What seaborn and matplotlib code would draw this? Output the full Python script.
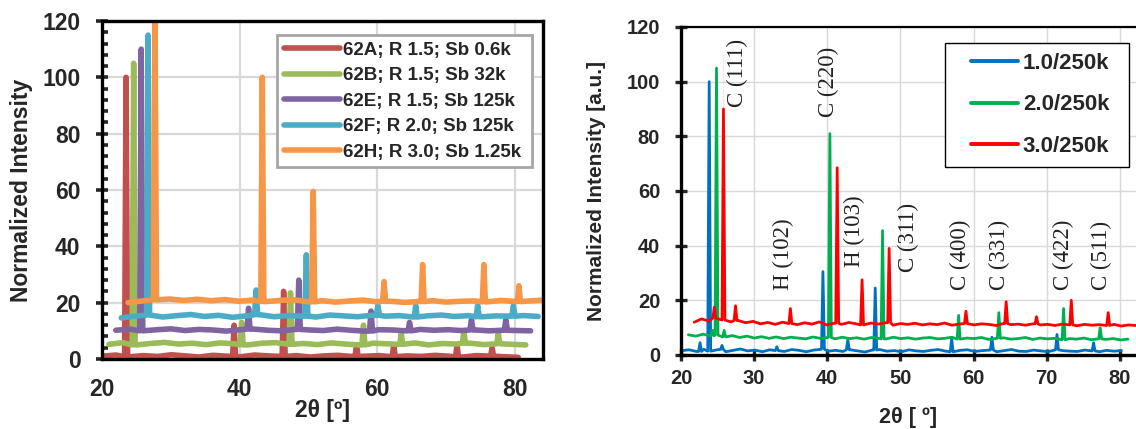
import numpy as np
import pandas as pd
import matplotlib
matplotlib.use("Agg")
import matplotlib.pyplot as plt
import seaborn as sns
from matplotlib.ticker import MultipleLocator
from matplotlib.legend_handler import HandlerLine2D
from matplotlib.lines import Line2D

# ---------------- Left panel data ----------------
left_labels = ["62A; R 1.5; Sb 0.6k", "62B; R 1.5; Sb 32k", "62E; R 1.5; Sb 125k",
               "62F; R 2.0; Sb 125k", "62H; R 3.0; Sb 1.25k"]
left_colors = ["#C0504D", "#9BBB59", "#8064A2", "#4BACC6", "#F79646"]
left_start = [20.0, 21.0, 22.0, 22.8, 23.8]
left_end = [80.5, 81.6, 82.3, 83.4, 84.1]
left_base_A = [1.0, 1.4, 0.8, 1.2, 0.9, 1.5, 1.1, 0.7, 1.3, 1.0, 0.8, 1.4, 1.1, 0.9, 1.2, 0.7,
               1.1, 1.3, 0.9, 1.0, 1.2, 0.8, 1.1, 0.9, 1.3, 1.0, 0.7, 1.2, 1.0, 0.8, 0.6]
left_base_B = [5.2, 5.8, 5.0, 5.5, 5.9, 5.3, 5.6, 5.1, 5.7, 5.4, 5.0, 5.6, 5.8, 5.2, 5.5, 5.1,
               5.7, 5.3, 5.0, 5.6, 5.4, 5.2, 5.7, 5.0, 5.5, 5.3, 5.6, 5.1, 5.4, 5.2, 5.0]
left_base_E = [10.2, 10.6, 10.0, 10.4, 10.7, 10.1, 10.5, 10.3, 9.9, 10.4, 10.6, 10.2, 10.0, 10.5,
               10.3, 10.1, 10.6, 10.2, 9.9, 10.4, 10.3, 10.0, 10.5, 10.2, 10.4, 10.1, 10.3, 10.0,
               10.2, 10.1, 10.0]
left_base_F = [14.6, 15.2, 15.6, 14.9, 15.4, 15.8, 15.1, 15.5, 14.8, 15.3, 15.7, 15.0, 15.4, 15.2,
               14.9, 15.6, 15.3, 15.0, 15.5, 15.2, 15.4, 14.9, 15.3, 15.6, 15.1, 15.4, 15.0, 15.3,
               15.2, 15.4, 15.1]
left_base_H = [20.0, 20.6, 21.0, 21.3, 20.8, 21.2, 20.7, 21.1, 20.5, 20.9, 20.4, 20.8, 21.0, 20.3,
               20.7, 20.2, 20.6, 20.9, 20.3, 20.5, 20.1, 20.4, 20.7, 20.2, 20.5, 20.6, 20.3, 20.8,
               20.4, 20.6, 20.9]
left_peak_x = [[23.5, 39.2, 46.4, 57.0, 62.4, 71.6, 76.7],
               [24.6, 40.3, 47.4, 58.0, 63.5, 72.6, 77.6],
               [25.7, 41.3, 48.6, 59.1, 64.7, 73.7, 78.7],
               [26.7, 42.4, 49.7, 60.1, 65.6, 74.6, 79.8],
               [27.7, 43.3, 50.7, 61.0, 66.6, 75.5, 80.6]]
left_peak_y = [[100, 12, 24, 5, 5, 5, 4],
               [105, 13, 23.5, 12, 9, 10, 9],
               [110, 18, 28, 17, 13, 14, 14],
               [115, 24.5, 37, 19, 19, 19, 19],
               [125, 100, 59.5, 27.5, 33.5, 33.5, 26]]
left_bases = [left_base_A, left_base_B, left_base_E, left_base_F, left_base_H]
left_yticks = [0, 20, 40, 60, 80, 100, 120]
left_xticks = [20, 40, 60, 80]

# ---------------- Right panel data ----------------
right_labels = ["1.0/250k", "2.0/250k", "3.0/250k"]
right_colors = ["#0070C0", "#00B050", "#FF0000"]
right_start = [20.1, 21.0, 21.8]
right_end = [80.2, 81.1, 82.2]
right_base_1 = [1.6, 1.9, 1.3, 2.1, 1.4, 2.0, 1.2, 1.7, 2.2, 1.5,
                1.8, 1.2, 1.9, 1.6, 1.3, 2.0, 1.7, 1.2, 1.8, 2.1,
                1.4, 1.7, 1.3, 1.9, 1.5, 1.1, 1.8, 2.0, 1.4, 1.6,
                1.2, 1.9, 1.5, 1.3, 1.7, 2.0, 1.4, 1.2, 1.7, 1.9,
                1.3, 1.6, 1.8, 1.2, 1.6, 2.0, 1.4, 1.3, 1.8, 1.5,
                1.2, 1.9, 1.6, 1.4, 1.3, 1.8, 1.5, 1.2, 1.7, 1.4, 1.6]
right_base_2 = [7.4, 6.9, 7.6, 7.0, 7.3, 6.6, 7.1, 6.4, 6.9, 6.2,
                6.7, 6.1, 6.6, 6.0, 6.5, 6.2, 5.9, 6.6, 6.1, 6.4,
                5.9, 6.5, 6.0, 6.3, 5.8, 6.4, 6.1, 5.9, 6.5, 6.0,
                6.3, 5.8, 6.2, 6.4, 5.9, 6.1, 6.5, 5.8, 6.2, 6.0,
                6.4, 5.7, 6.1, 6.3, 5.8, 6.0, 6.4, 5.7, 6.2, 5.9,
                6.1, 5.6, 6.0, 5.8, 6.2, 5.6, 5.9, 5.7, 6.0, 5.5, 5.8]
right_base_3 = [12.0, 13.2, 12.4, 13.5, 12.8, 12.1, 12.6, 11.8, 12.3, 11.4,
                11.9, 11.2, 12.0, 11.5, 11.1, 11.8, 11.3, 12.1, 11.0, 11.6,
                11.2, 11.9, 11.4, 11.0, 11.7, 11.3, 11.8, 10.9, 11.5, 11.2,
                11.6, 11.0, 11.4, 11.1, 11.7, 10.9, 11.3, 11.5, 11.0, 11.4,
                11.2, 10.8, 11.5, 11.1, 11.3, 10.9, 11.4, 11.0, 11.2, 10.8,
                11.3, 11.0, 10.7, 11.2, 10.9, 11.1, 10.8, 11.2, 10.6, 11.0, 10.8]
right_peak_x = [[22.6, 23.85, 25.6, 33.1, 39.4, 42.8, 46.55, 57.0, 62.5, 71.4, 76.4],
                [24.3, 24.85, 25.9, 40.35, 47.55, 57.95, 63.45, 72.3, 77.3],
                [24.55, 25.8, 27.45, 34.95, 41.35, 44.75, 48.45, 58.95, 64.45, 68.6, 73.35, 78.4]]
right_peak_y = [[4.5, 100, 3.5, 3, 30.5, 5.5, 24.5, 6, 6.5, 7.5, 4.5],
                [9, 105, 9, 81, 45.5, 14.5, 15.5, 17, 10],
                [17.5, 90, 18, 17, 68.5, 27.5, 39, 16, 19.5, 14, 20, 15.5]]
right_bases = [right_base_1, right_base_2, right_base_3]
faint_x = [25.75, 25.75]
faint_y = [90, 110]
annot_labels = ["C (111)", "C (220)", "H (102)", "H (103)", "C (311)",
                "C (400)", "C (331)", "C (422)", "C (511)"]
annot_x = [27.65, 40.1, 34.05, 43.7, 51.1, 58.2, 63.6, 72.3, 77.5]
annot_y = [90.7, 87, 23.8, 32.3, 30.5, 23.8, 23.8, 23.8, 23.8]
right_yticks = [0, 20, 40, 60, 80, 100, 120]
right_xticks = [20, 30, 40, 50, 60, 70, 80]


def build(label, start, end, base, px, py, hw):
    bx = np.linspace(start, end, len(base))
    pts = [(x, y) for x, y in zip(bx, base) if all(abs(x - p) > hw * 1.5 for p in px)]
    for p, h in zip(px, py):
        b = base[int(np.argmin(np.abs(bx - p)))]
        pts += [(p - hw, b), (p, h), (p + hw, b)]
    pts.sort(key=lambda t: t[0])
    return pd.DataFrame({"x": [t[0] for t in pts], "y": [t[1] for t in pts], "series": label})


df_left = pd.concat([build(l, s, e, b, px, py, 0.22) for l, s, e, b, px, py in
                     zip(left_labels, left_start, left_end, left_bases, left_peak_x, left_peak_y)],
                    ignore_index=True)
df_right = pd.concat([build(l, s, e, b, px, py, 0.2) for l, s, e, b, px, py in
                      zip(right_labels, right_start, right_end, right_bases, right_peak_x, right_peak_y)],
                     ignore_index=True)

sns.set_style("white")
plt.rcParams["font.family"] = ["Liberation Sans", "DejaVu Sans"]
plt.rcParams["font.weight"] = "bold"
plt.rcParams["axes.labelweight"] = "bold"

fig = plt.figure(figsize=(11.36, 4.29), dpi=100)
axL = fig.add_axes([0.0898, 0.1632, 0.3882, 0.7879])
axR = fig.add_axes([0.5995, 0.1725, 0.4005, 0.7646])

# ---------------- Left panel ----------------
sns.lineplot(data=df_left, x="x", y="y", hue="series", hue_order=left_labels,
             palette=dict(zip(left_labels, left_colors)), estimator=None, sort=False,
             linewidth=4.0, solid_capstyle="round", solid_joinstyle="round", ax=axL)
axL.set_xlim(20, 84.1)
axL.set_ylim(0, 120)
axL.set_xticks(left_xticks)
axL.set_yticks(left_yticks)
axL.yaxis.set_minor_locator(MultipleLocator(4))
axL.set_axisbelow(True)
axL.grid(True, which="major", color="#D9D9D9", linewidth=1.6)
for sp in axL.spines.values():
    sp.set_visible(True)
    sp.set_color("black")
    sp.set_linewidth(2.4)
axL.tick_params(axis="y", which="major", direction="inout", length=9, width=2.6,
                pad=11, labelsize=16.5, left=True)
axL.tick_params(axis="y", which="minor", direction="in", length=4.5, width=2.6, left=True)
axL.tick_params(axis="x", which="both", length=0, pad=13.5, labelsize=16.5)
axL.set_xlabel("2θ [º]", fontsize=16.5, fontweight="bold", labelpad=-1)
axL.set_ylabel("Normalized Intensity", fontsize=16.5, fontweight="bold", labelpad=7)
handlesL = [Line2D([], [], color=c, linewidth=4, solid_capstyle="round") for c in left_colors]
axL.get_legend().remove()
legL = axL.legend(handlesL, left_labels, loc="upper left",
                  bbox_to_anchor=((277 - 102) / 441, 1 - (35 - 21) / 338, (532 - 277) / 441, 0.0),
                  mode="expand", frameon=True,
                  fancybox=False, framealpha=1, edgecolor="#A6A6A6", fontsize=13.5,
                  handlelength=3.0, handletextpad=0.15, labelspacing=0.45, borderpad=0.35,
                  borderaxespad=0)
legL.get_frame().set_linewidth(2.0)
for t in legL.get_texts():
    t.set_fontweight("bold")

# ---------------- Right panel ----------------
sns.lineplot(data=df_right, x="x", y="y", hue="series", hue_order=right_labels,
             palette=dict(zip(right_labels, right_colors)), estimator=None, sort=False,
             linewidth=2.0, ax=axR)
sns.lineplot(x=faint_x, y=faint_y, color="#FF8080", linewidth=0.7, ax=axR, legend=False)
for s, x, y in zip(annot_labels, annot_x, annot_y):
    axR.text(x, y, s, rotation=90, ha="center", va="bottom", fontsize=16.5,
             family=["Liberation Serif", "DejaVu Serif"], fontweight="normal", color="#222222")
axR.set_xlim(20, 82.2)
axR.set_ylim(0, 120)
axR.set_xticks(right_xticks)
axR.set_yticks(right_yticks)
axR.set_axisbelow(True)
axR.grid(True, which="major", color="#D9D9D9", linewidth=1.0)
axR.spines["right"].set_visible(False)
for name in ["left", "bottom"]:
    axR.spines[name].set_visible(True)
    axR.spines[name].set_color("black")
    axR.spines[name].set_linewidth(2.4)
axR.spines["top"].set_visible(True)
axR.spines["top"].set_color("black")
axR.spines["top"].set_linewidth(1.6)
axR.tick_params(axis="y", which="major", direction="inout", length=9, width=2.4,
                pad=10.5, labelsize=14.5, left=True)
axR.tick_params(axis="x", which="major", direction="inout", length=9, width=2.4,
                pad=5.5, labelsize=14.5, bottom=True)
axR.set_xlabel("2θ [ º]", fontsize=15.5, fontweight="bold", labelpad=14)
axR.set_ylabel("Normalized Intensity [a.u.]", fontsize=15, fontweight="bold", labelpad=15)
handlesR = [Line2D([], [], color=c, linewidth=2.8) for c in right_colors]
axR.get_legend().remove()
legR = axR.legend(handlesR, right_labels, loc="upper left",
                  bbox_to_anchor=((945 - 681) / 455, 1 - (43 - 27) / 328, (1129 - 945) / 455, 0.0),
                  mode="expand", frameon=True,
                  fancybox=False, framealpha=1, edgecolor="black", fontsize=16,
                  handlelength=2.85, handletextpad=0.2, labelspacing=0.92, borderpad=0.45,
                  borderaxespad=0, handler_map={Line2D: HandlerLine2D(xpad=0.7)})
legR.get_frame().set_linewidth(1.0)
for t in legR.get_texts():
    t.set_fontweight("bold")

for ax in (axL, axR):
    for t in ax.get_xticklabels() + ax.get_yticklabels():
        t.set_fontweight("bold")

fig.savefig("out.png", dpi=100)
